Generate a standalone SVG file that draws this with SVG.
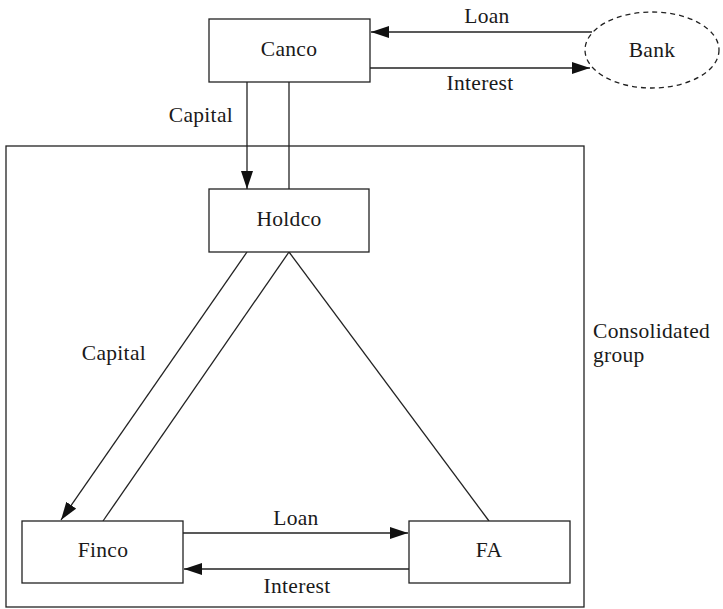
<svg xmlns="http://www.w3.org/2000/svg" width="723" height="609" viewBox="0 0 723 609">
<defs>
<style>
.box{fill:#fff;stroke:#222;stroke-width:1.3}
.ln{fill:none;stroke:#222;stroke-width:1.3}
.t{font-family:"Liberation Serif","Times New Roman",serif;font-size:21.5px;letter-spacing:0.3px;fill:#1a1a1a}
.c{text-anchor:middle}
.e{text-anchor:end}
</style>
<marker id="ah" viewBox="0 0 18 12" refX="18" refY="6" markerWidth="18" markerHeight="12" markerUnits="userSpaceOnUse" orient="auto">
<path d="M0,0 L18,6 L0,12 Z" fill="#111"/>
</marker>
</defs>
<rect width="723" height="609" fill="#fff"/>
<g id="consolidated-group">
<rect x="6" y="146" width="578" height="461" class="ln"/>
<text class="t" x="593" y="338">Consolidated</text>
<text class="t" x="593" y="362">group</text>
</g>
<g id="connectors">
<line x1="592" y1="32" x2="371" y2="32" class="ln" marker-end="url(#ah)"/>
<line x1="370" y1="68" x2="590" y2="68" class="ln" marker-end="url(#ah)"/>
<line x1="247" y1="82" x2="247" y2="189" class="ln" marker-end="url(#ah)"/>
<line x1="289" y1="82" x2="289" y2="189" class="ln"/>
<line x1="247" y1="252" x2="61" y2="520" class="ln" marker-end="url(#ah)"/>
<line x1="103" y1="521" x2="289" y2="252" class="ln"/>
<line x1="289" y1="252" x2="489" y2="521" class="ln"/>
<line x1="183" y1="533" x2="408" y2="533" class="ln" marker-end="url(#ah)"/>
<line x1="409" y1="569" x2="184" y2="569" class="ln" marker-end="url(#ah)"/>
<text class="t c" x="487" y="23">Loan</text>
<text class="t c" x="480" y="90">Interest</text>
<text class="t e" x="233" y="122">Capital</text>
<text class="t e" x="146" y="360">Capital</text>
<text class="t c" x="296" y="525">Loan</text>
<text class="t c" x="297" y="593">Interest</text>
</g>
<g id="canco">
<rect x="209" y="19" width="161" height="63" class="box"/>
<text class="t c" x="289" y="56">Canco</text>
</g>
<g id="bank">
<ellipse cx="652" cy="50" rx="67" ry="38" fill="#fff" stroke="#222" stroke-width="1.3" stroke-dasharray="5,4"/>
<text class="t c" x="652" y="57">Bank</text>
</g>
<g id="holdco">
<rect x="209" y="189" width="160" height="63" class="box"/>
<text class="t c" x="289" y="226">Holdco</text>
</g>
<g id="finco">
<rect x="22" y="521" width="161" height="62" class="box"/>
<text class="t c" x="103" y="557">Finco</text>
</g>
<g id="fa">
<rect x="409" y="521" width="161" height="62" class="box"/>
<text class="t c" x="489" y="557">FA</text>
</g>
</svg>
